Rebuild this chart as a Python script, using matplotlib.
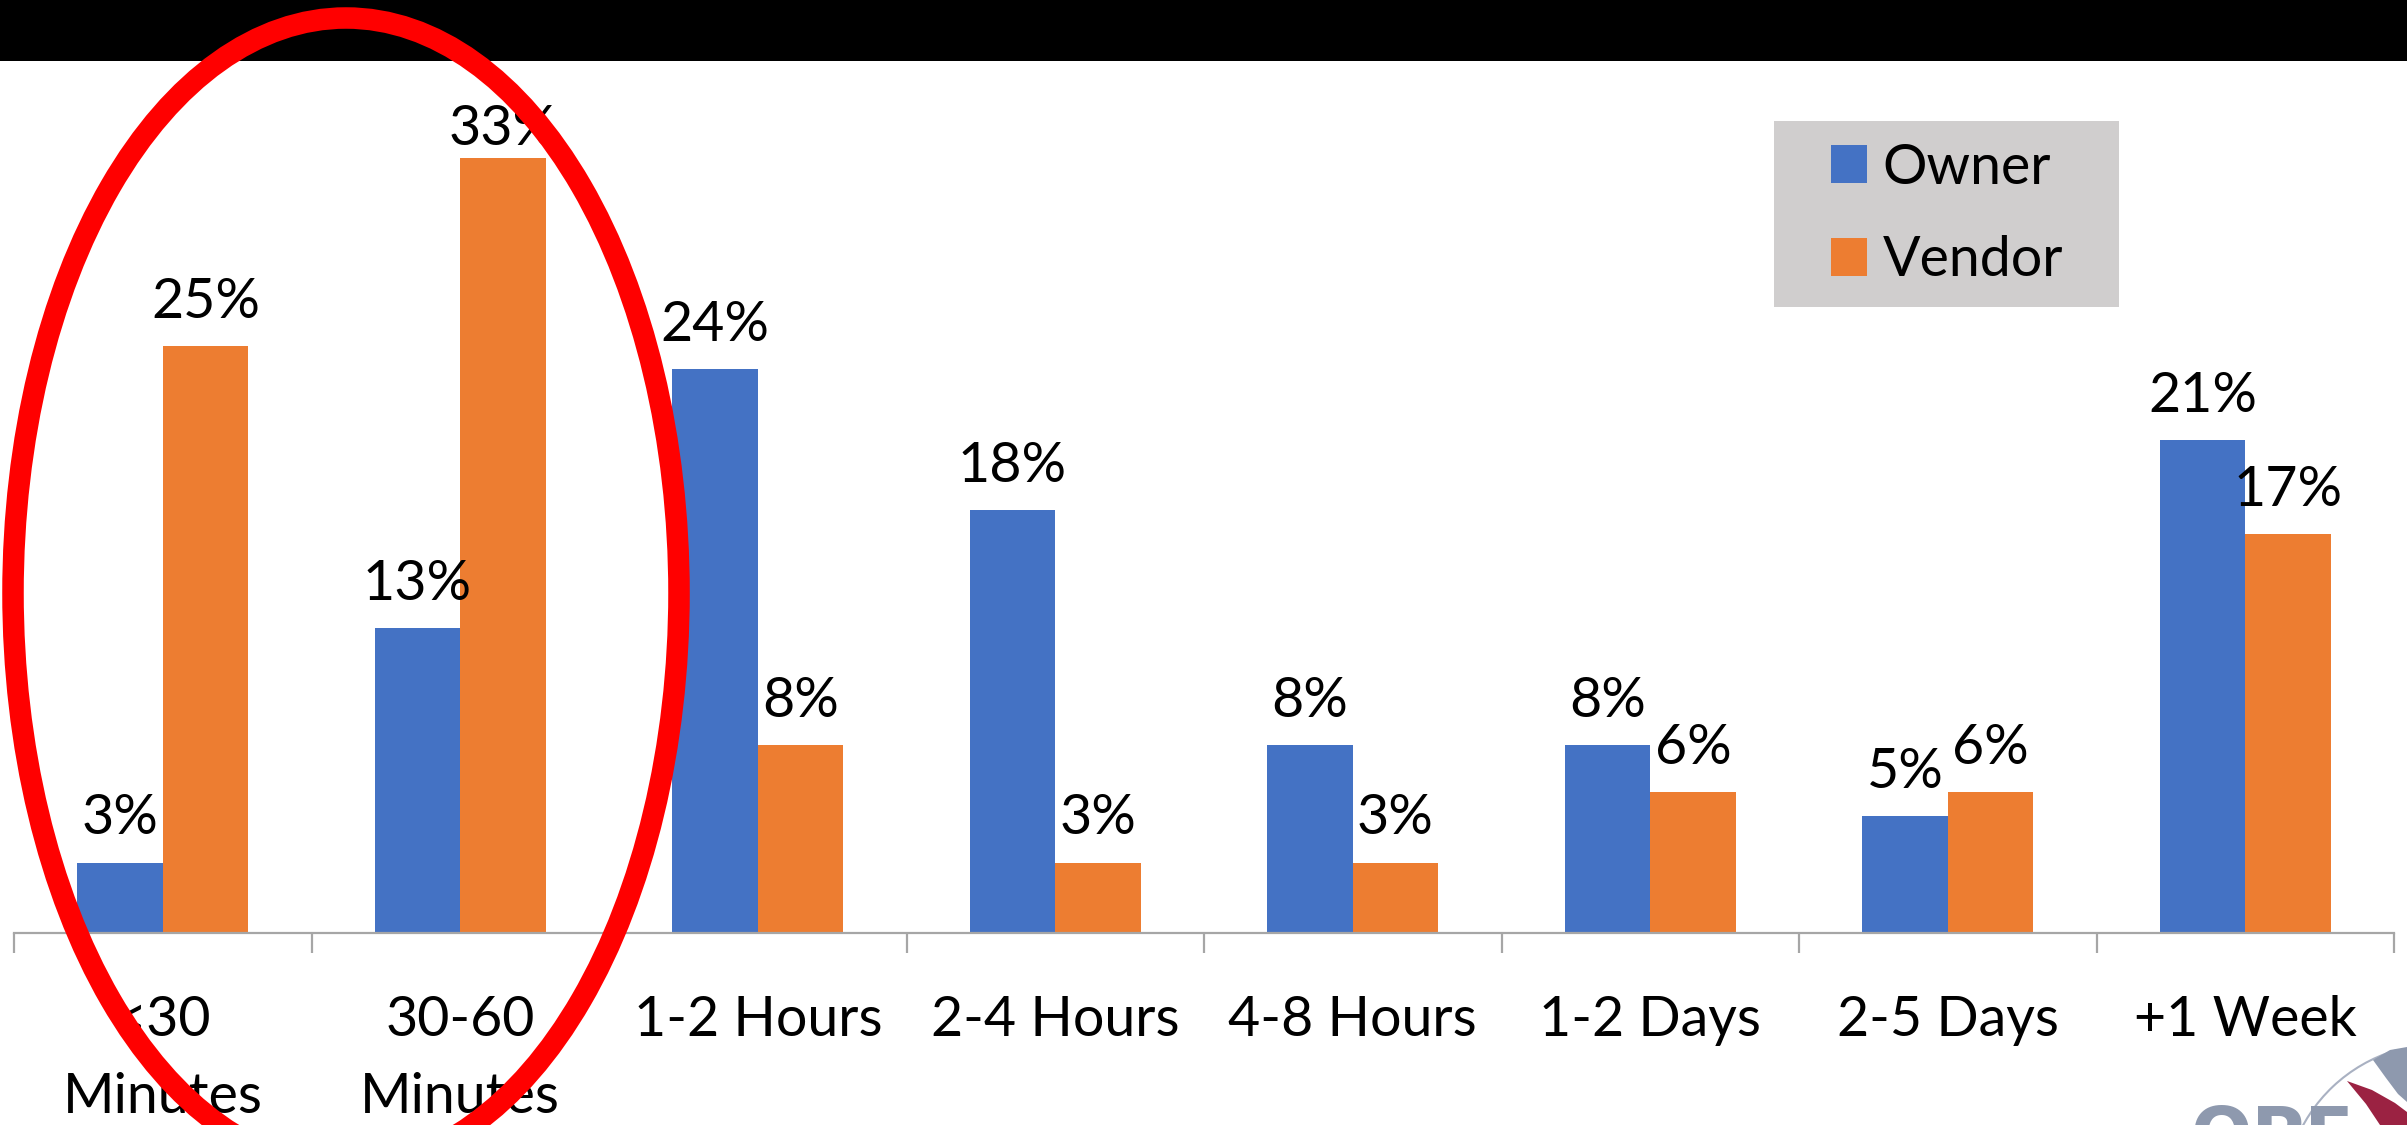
import matplotlib
matplotlib.use("Agg")
import matplotlib.pyplot as plt
from matplotlib.patches import Patch, Rectangle, Ellipse, Polygon, Arc
import numpy as np

# Response time buckets and share of responses (%)
categories = ["<30\nMinutes", "30-60\nMinutes", "1-2 Hours", "2-4 Hours",
              "4-8 Hours", "1-2 Days", "2-5 Days", "+1 Week"]
owner = [3, 13, 24, 18, 8, 8, 5, 21]
vendor = [25, 33, 8, 3, 3, 6, 6, 17]
series_names = ["Owner", "Vendor"]

BLUE = "#4472C4"
ORANGE = "#ED7D31"
AXIS_GRAY = "#A6A6A6"

plt.rcParams["font.family"] = ["Lato", "DejaVu Sans"]

W, H = 2407, 1125
fig = plt.figure(figsize=(W / 100, H / 100), dpi=100)


def fx(px):
    return px / W


def fy(py):
    # pixel row measured from the top edge -> figure fraction
    return 1 - py / H


PX_PER_UNIT = 23.5
BASE_PX = 933
ax = fig.add_axes([fx(14), fy(BASE_PX), fx(2380), 872 / H])
ax.set_xlim(-0.5, len(categories) - 0.5)
ax.set_ylim(0, 872 / PX_PER_UNIT)

x = np.arange(len(categories))
bw = 0.287
ax.bar(x - bw / 2, owner, width=bw, color=BLUE, label=series_names[0], zorder=2)
ax.bar(x + bw / 2, vendor, width=bw, color=ORANGE, label=series_names[1], zorder=2)

FS = 40
# labels sit 28 px above the bar, but never higher than a baseline at y=145 px
label_gap_px = 28
max_baseline = (BASE_PX - 145) / PX_PER_UNIT
for xs, vals in ((x - bw / 2, owner), (x + bw / 2, vendor)):
    for xi, v in zip(xs, vals):
        gap_px = min(label_gap_px, (max_baseline - v) * PX_PER_UNIT)
        ax.annotate(f"{v}%", xy=(xi, v), xytext=(0, gap_px * 0.72), textcoords="offset points",
                    ha="center", va="baseline", fontsize=FS, color="black", zorder=3)

for s in ("top", "right", "left"):
    ax.spines[s].set_visible(False)
ax.spines["bottom"].set_color(AXIS_GRAY)
ax.spines["bottom"].set_linewidth(1.6)
ax.set_yticks([])

ax.set_xticks(x)
ax.set_xticklabels(categories, fontsize=FS, linespacing=1.62)
ax.tick_params(axis="x", which="major", length=0, pad=45)
ax.set_xticks(np.arange(len(categories) + 1) - 0.5, minor=True)
ax.tick_params(axis="x", which="minor", length=14.5, width=1.6, color=AXIS_GRAY, direction="out")

# legend: grey panel behind a frameless legend
ax.add_patch(Rectangle((fx(1774), fy(307)), fx(2119 - 1774), (307 - 121) / H,
                       transform=fig.transFigure, facecolor="#D0CECE", edgecolor="none",
                       clip_on=False, zorder=4))
leg = ax.legend(handles=[Patch(facecolor=BLUE, label=series_names[0]),
                         Patch(facecolor=ORANGE, label=series_names[1])],
                loc="center left", bbox_to_anchor=(fx(1831), fy(214.5)),
                bbox_transform=fig.transFigure, fontsize=FS, frameon=False,
                handlelength=0.65, handleheight=0.65, handletextpad=0.28,
                labelspacing=0.755, borderpad=0, borderaxespad=0)
leg.set_zorder(5)

# black header band
fig.patches.append(Rectangle((0, fy(61)), 1, 61 / H, transform=fig.transFigure,
                             facecolor="black", edgecolor="none", zorder=1))

# logo fragment in the bottom-right corner
LOGO_GRAY = "#8E99AE"
LOGO_RED = "#9B2242"
fig.text(fx(2190), fy(1104), "OPE", fontsize=52, fontweight="bold",
         color=LOGO_GRAY, ha="left", va="top", family="DejaVu Sans", zorder=6)
fig.patches.append(Arc((fx(2440), fy(1200)), 312 / W, 312 / H, theta1=98, theta2=142,
                       transform=fig.transFigure, color="#A9B1C2", lw=1.5, zorder=6))


def logo_poly(points, color):
    pts = [(fx(px), fy(py)) for px, py in points]
    fig.patches.append(Polygon(pts, closed=True, transform=fig.transFigure,
                               facecolor=color, edgecolor="none", zorder=6))


logo_poly([(2373, 1060), (2390, 1050), (2407, 1047), (2407, 1102), (2398, 1094), (2386, 1078)],
          LOGO_GRAY)
logo_poly([(2347, 1081), (2372, 1090), (2395, 1103), (2407, 1112), (2407, 1125), (2380, 1125),
           (2366, 1104)], LOGO_RED)

# red highlight ring around the first two groups
fig.patches.append(Ellipse((fx(346), fy(593)), 666 / W, 1150 / H, transform=fig.transFigure,
                           facecolor="none", edgecolor="#FF0000", linewidth=15.5, zorder=10))

fig.savefig("out.png", dpi=100)
